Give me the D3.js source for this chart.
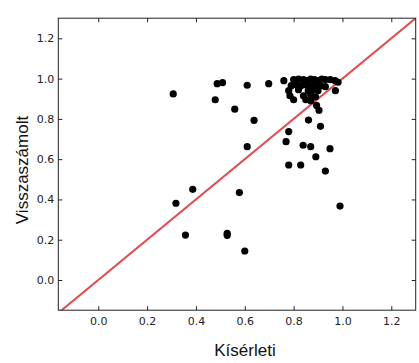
<!DOCTYPE html>
<html><head><meta charset="utf-8">
<script src="https://cdn.jsdelivr.net/npm/d3@7"></script>
<style>body{margin:0;background:#fff}</style>
</head><body>
<script>
const kiserleti = [0.307,0.487,0.509,0.479,0.610,0.698,0.559,0.638,0.610,0.760,0.780,0.829,0.891,0.930,0.990,0.387,0.318,0.578,0.357,0.528,0.528,0.600,0.894,0.904,0.861,0.910,0.780,0.769,0.839,0.870,0.949,0.971,0.982,
 0.80,0.82,0.84,0.855,0.87,0.885,0.90,0.915,0.93,0.95,0.97,
 0.79,0.81,0.83,0.85,0.87,0.89,0.91,0.93,
 0.78,0.82,0.86,0.88,0.90,
 0.785,0.84,0.87,0.89,
 0.80,0.85,0.87];
const visszaszamolt = [0.924,0.975,0.980,0.895,0.967,0.975,0.848,0.793,0.662,0.990,0.571,0.571,0.612,0.541,0.367,0.450,0.381,0.434,0.223,0.232,0.222,0.144,0.867,0.843,0.794,0.763,0.737,0.687,0.669,0.662,0.652,0.940,0.982,
 0.995,0.998,0.995,0.99,0.998,0.995,0.99,0.998,0.995,0.995,0.99,
 0.965,0.97,0.965,0.97,0.965,0.97,0.965,0.96,
 0.94,0.945,0.94,0.945,0.94,
 0.915,0.915,0.92,0.91,
 0.895,0.895,0.89];
const xTicks = [0.0,0.2,0.4,0.6,0.8,1.0,1.2];
const yTicks = [0.0,0.2,0.4,0.6,0.8,1.0,1.2];
const xLabel = "Kísérleti";
const yLabel = "Visszaszámolt";

const W = 419, H = 363;
const svg = d3.select("body").append("svg").attr("width", W).attr("height", H);
const x = d3.scaleLinear().domain([-0.1637, 1.3]).range([58.3, 415.7]);
const y = d3.scaleLinear().domain([-0.15, 1.3]).range([310.2, 18.2]);
const [x0, x1] = x.range(), [y0, y1] = y.range();

svg.append("defs").append("clipPath").attr("id","clip")
  .append("rect").attr("x",x0).attr("y",y1).attr("width",x1-x0).attr("height",y0-y1);

// identity line
const lo = -0.2, hi = 1.35;
svg.append("line").attr("clip-path","url(#clip)")
  .attr("x1",x(lo)).attr("y1",y(lo)).attr("x2",x(hi)).attr("y2",y(hi))
  .attr("stroke","#e5484d").attr("stroke-width",2);

// points
svg.append("g").selectAll("circle").data(kiserleti.map((v,i)=>[v,visszaszamolt[i]]))
  .join("circle").attr("cx",d=>x(d[0])).attr("cy",d=>y(d[1])).attr("r",3.6).attr("fill","#000");

const fmt = d3.format(".1f");
const tickStyle = g => {
  g.select(".domain").remove();
  g.selectAll(".tick line").attr("stroke","#222");
  g.selectAll(".tick text").attr("fill","#222").attr("font-family","DejaVu Sans").attr("font-size","11px");
};
svg.append("g").attr("transform",`translate(0,${y0})`)
  .call(d3.axisBottom(x).tickValues(xTicks).tickFormat(fmt).tickSizeInner(-4).tickSizeOuter(0).tickPadding(7))
  .call(tickStyle);
svg.append("g").attr("transform",`translate(0,${y1})`)
  .call(d3.axisTop(x).tickValues(xTicks).tickFormat("").tickSizeInner(-4).tickSizeOuter(0))
  .call(tickStyle);
svg.append("g").attr("transform",`translate(${x0},0)`)
  .call(d3.axisLeft(y).tickValues(yTicks).tickFormat(fmt).tickSizeInner(-4).tickSizeOuter(0).tickPadding(4))
  .call(tickStyle);
svg.append("g").attr("transform",`translate(${x1},0)`)
  .call(d3.axisRight(y).tickValues(yTicks).tickFormat("").tickSizeInner(-4).tickSizeOuter(0))
  .call(tickStyle);

// frame
svg.append("rect").attr("x",x0).attr("y",y1).attr("width",x1-x0).attr("height",y0-y1)
  .attr("fill","none").attr("stroke","#222").attr("stroke-width",1);

svg.append("text").attr("x",(x0+x1)/2+8).attr("y",356).attr("text-anchor","middle")
  .attr("font-family","Liberation Sans").attr("font-size","17px").attr("fill","#111").text(xLabel);
svg.append("text").attr("transform",`translate(28,170) rotate(-90)`).attr("text-anchor","middle")
  .attr("font-family","Liberation Sans").attr("font-size","17px").attr("fill","#111").text(yLabel);
</script>
</body></html>
